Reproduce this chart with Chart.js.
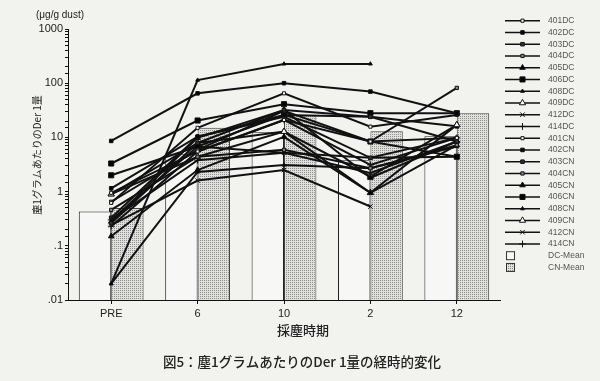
<!DOCTYPE html>
<html>
<head>
<meta charset="utf-8">
<script src="https://cdn.jsdelivr.net/npm/chart.js@4/dist/chart.umd.min.js"></script>
<style>
  body { margin: 0; background: #f2f2ef; }
  #wrap { width: 600px; height: 381px; position: relative; }
</style>
</head>
<body>
<div id="wrap"><canvas id="chart"></canvas></div>
<script>
// sampling periods (x axis)
const categories = ["PRE", "6", "10", "2", "12"];

// Der 1 per gram of dust (null = no sample)
const s401DC = [0.95, 5.5, 21, 8.4, 9.8];
const s402DC = [8.6, 65, 100, 70, 28];
const s403DC = [0.26, 7.9, 32, 24, 8.4];
const s404DC = [0.46, 4.4, 5.9, 2.7, 7.2];
const s405DC = [0.15, 2.5, 10.2, 0.95, 7.2];
const s406DC = [3.3, 20.5, 41, 28, 28];
const s408DC = [0.02, 114, 227, 227, null];
const s409DC = [0.9, 4.4, 12.8, 0.95, 17];
const s412DC = [0.24, 1.6, 2.5, 0.53, null];
const s414DC = [0.30, 3.8, 5.2, 2.2, 8.4];

const s401CN = [0.62, 15, 65, 15.8, 26];
const s402CN = [1.15, 10.3, 26, 24, 16];
const s403CN = [0.33, 10.3, 24, 4.2, 9.8];
const s404CN = [0.65, 5.9, 31, 8.4, 82];
const s405CN = [0.28, 9.8, 32, 1.8, 8.4];
const s406CN = [2.0, 6.8, 26, 8.4, 4.4];
const s408CN = [0.02, 2.3, 3.1, 2.7, 6.8];
const s409CN = [0.9, 7.9, 12.8, 1.9, 17];
const s412CN = [0.30, 6.8, 5.2, 4.2, 4.4];
const s414CN = [0.23, 5.5, 21, 3.1, 9.8];

// group means (bars)
const dcMean = [0.43, 5.0, 12.5, 3.8, 10.5];
const cnMean = [0.5, 15, 26, 13, 28];

const yTickLabels = ["1000", "100", "10", "1", ".1", ".01"];

const lineSeries = [
    ["401DC", s401DC], ["402DC", s402DC], ["403DC", s403DC], ["404DC", s404DC], ["405DC", s405DC],
    ["406DC", s406DC], ["408DC", s408DC], ["409DC", s409DC], ["412DC", s412DC], ["414DC", s414DC],
    ["401CN", s401CN], ["402CN", s402CN], ["403CN", s403CN], ["404CN", s404CN], ["405CN", s405CN],
    ["406CN", s406CN], ["408CN", s408CN], ["409CN", s409CN], ["412CN", s412CN], ["414CN", s414CN]
];

// marker per house number
function markerFor(name) {
    const id = name.slice(0, 3);
    switch (id) {
        case "401": return { style: "rect", r: 2.2, fill: "#fff" };
        case "402": return { style: "rect", r: 2.5, fill: "#000" };
        case "403": return { style: "rect", r: 2.5, fill: "#333" };
        case "404": return { style: "rect", r: 2.3, fill: "#888" };
        case "405": return { style: "triangle", r: 3.2, fill: "#000" };
        case "406": return { style: "rect", r: 3.6, fill: "#000" };
        case "408": return { style: "triangle", r: 2.2, fill: "#000" };
        case "409": return { style: "triangle", r: 3.6, fill: "#fff" };
        case "412": return { style: "crossRot", r: 3.2, fill: "#000" };
        default: return { style: "cross", r: 3.4, fill: "#000" };
    }
}

function makeStipple() {
    const c = document.createElement("canvas");
    c.width = 2;
    c.height = 2;
    const g = c.getContext("2d");
    g.fillStyle = "#e0e0dd";
    g.fillRect(0, 0, 2, 2);
    g.fillStyle = "#8e8e8e";
    g.fillRect(0, 0, 1, 1);
    return g.createPattern(c, "repeat");
}

const datasets = lineSeries.map(([name, values]) => {
    const m = markerFor(name);
    return {
        type: "line",
        label: name,
        data: values,
        borderColor: "#111",
        borderWidth: 2,
        pointStyle: m.style,
        pointRadius: m.r,
        pointBackgroundColor: m.fill,
        pointBorderColor: "#111",
        pointBorderWidth: 1,
        tension: 0,
        spanGaps: false,
        order: 0
    };
});
datasets.push({
    type: "bar", label: "DC-Mean", data: dcMean,
    backgroundColor: "#f7f7f5", borderColor: "#222", borderWidth: 1,
    categoryPercentage: 0.75, barPercentage: 1, order: 1
});
datasets.push({
    type: "bar", label: "CN-Mean", data: cnMean,
    backgroundColor: makeStipple(), borderColor: "#444", borderWidth: 1,
    categoryPercentage: 0.75, barPercentage: 1, order: 1
});

const NARROW = "'Liberation Sans Narrow', 'Liberation Sans', sans-serif";
const JP = "'Noto Sans CJK JP', sans-serif";

// texts and the side legend
const extras = {
    id: "extras",
    afterDraw(chart) {
        const ctx = chart.ctx;
        ctx.save();
        ctx.fillStyle = "#222";
        ctx.textBaseline = "middle";

        ctx.font = "10px " + NARROW;
        ctx.textAlign = "center";
        ctx.fillText("(\u03bcg/g dust)", 60, 15);

        ctx.font = "500 13px " + JP;
        ctx.fillText("採塵時期", 303, 330);
        ctx.font = "500 13.5px " + JP;
        ctx.fillText("図5：塵1グラムあたりのDer 1量の経時的変化", 302, 362);

        ctx.save();
        ctx.translate(37, 155);
        ctx.rotate(-Math.PI / 2);
        ctx.font = "10px " + JP;
        ctx.fillText("塵1グラムあたりのDer 1量", 0, 0);
        ctx.restore();

        // legend
        const x0 = 505, x1 = 540, tx = 548;
        let y = 20.7;
        const step = 11.75;
        ctx.textAlign = "left";
        ctx.font = "8.5px " + NARROW;
        chart.data.datasets.forEach(ds => {
            if (ds.type === "line") {
                ctx.strokeStyle = "#111";
                ctx.lineWidth = 1.4;
                ctx.beginPath();
                ctx.moveTo(x0, y);
                ctx.lineTo(x1, y);
                ctx.stroke();
                ctx.fillStyle = ds.pointBackgroundColor;
                ctx.strokeStyle = "#111";
                ctx.lineWidth = 1;
                if (Chart.helpers && Chart.helpers.drawPoint) {
                    Chart.helpers.drawPoint(ctx, {
                        pointStyle: ds.pointStyle, radius: ds.pointRadius, rotation: 0, borderWidth: 1
                    }, (x0 + x1) / 2, y);
                }
            } else {
                ctx.fillStyle = ds.backgroundColor;
                ctx.fillRect(506, y - 4.5, 9, 9);
                ctx.strokeStyle = "#333";
                ctx.lineWidth = 1;
                ctx.strokeRect(506.5, y - 4, 8, 8);
            }
            ctx.fillStyle = "#555";
            ctx.fillText(ds.label, tx, y);
            y += step;
        });
        ctx.restore();
    }
};

new Chart(document.getElementById("chart"), {
    data: { labels: categories, datasets },
    options: {
        responsive: true,
        maintainAspectRatio: false,
        animation: false,
        layout: { padding: { left: 0, top: 29, right: 100, bottom: 0 } },
        plugins: { legend: { display: false }, tooltip: { enabled: false } },
        scales: {
            x: {
                grid: { display: true, drawOnChartArea: false, offset: false, tickLength: 4, color: "#111" },
                border: { color: "#111", width: 1 },
                ticks: { color: "#222", font: { family: NARROW, size: 11 }, padding: 3, maxRotation: 0 },
                afterFit: s => { s.height = 81; }
            },
            y: {
                type: "logarithmic",
                min: 0.01,
                max: 1000,
                grid: { display: true, drawOnChartArea: false, tickLength: 3, color: "#111" },
                border: { color: "#111", width: 1 },
                ticks: {
                    autoSkip: false,
                    color: "#222",
                    font: { family: NARROW, size: 11 },
                    padding: 2,
                    callback: v => {
                        const l = Math.log10(v);
                        if (Math.abs(l - Math.round(l)) > 1e-6) return "";
                        return yTickLabels[3 - Math.round(l)];
                    }
                },
                afterFit: s => { s.width = 68; }
            }
        }
    },
    plugins: [extras]
});
</script>
</body>
</html>
